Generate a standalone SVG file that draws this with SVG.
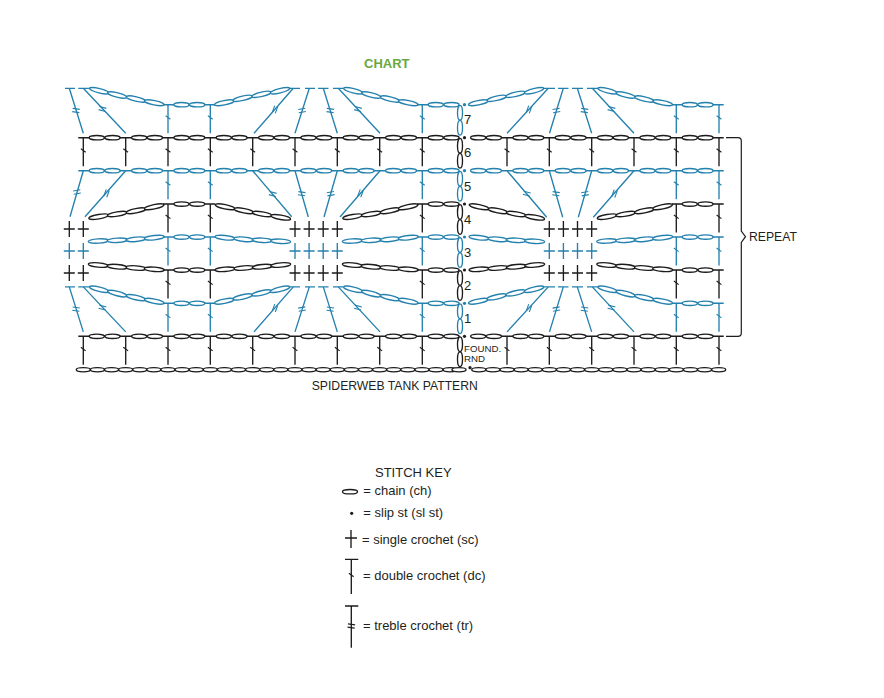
<svg xmlns="http://www.w3.org/2000/svg" width="884" height="698" viewBox="0 0 884 698">
<style>
text{font-family:"Liberation Sans",Arial,sans-serif;fill:#231f20;font-size:12.2px}
.b{stroke:#2481ae;color:#2481ae}
.k{stroke:#1d1b1c;color:#1d1b1c}
.l{fill:none;stroke-width:1.35}
.e{fill:#fff;stroke-width:1.35}
.d{stroke:none;fill:currentColor}
.t{fill:none;stroke-width:1.1}
.n{font-size:13px}
.s{font-size:9.7px}
.r{font-size:13px}
</style>
<defs>
<ellipse id="c" class="e" cx="0" cy="0" rx="7.6" ry="2.2"/>
<ellipse id="a" class="e" cx="0" cy="0" rx="10" ry="2.2"/>
<ellipse id="n" class="e" cx="0" cy="0" rx="7.05" ry="2.1"/>
<g id="p"><use href="#c" x="13.5"/><use href="#c" x="29.2"/></g>
<g id="vc"><ellipse class="e" cx="460" cy="8" rx="2.5" ry="7.4"/><ellipse class="e" cx="460" cy="23" rx="2.5" ry="7.4"/></g>
<path id="t1" class="t" d="M-2.4 -1.8L2.4 1.8"/>
<path id="t2" class="t" d="M-3.6 -1.6H3.6M-3.6 1.6H3.6"/>
<use id="t2a" href="#t2" transform="rotate(8)"/>
<use id="t2b" href="#t2" transform="rotate(-10)"/>
<use id="t2c" href="#t2" transform="rotate(15)"/>
<use id="t2d" href="#t2" transform="rotate(-70)"/>
<g id="v"><path class="l" d="M0 0V28.5"/><use href="#t1" y="12.8"/></g>
<g id="V5"><use href="#v" x="168"/><use href="#v" x="210.3"/><use href="#v" x="422.3"/><use href="#v" x="676.3"/><use href="#v" x="719"/></g>
<g id="sc"><path class="l" d="M0 -8V8M-5.5 0H5.5"/></g>
<g id="scs"><use href="#sc" x="69.3"/><use href="#sc" x="83.3"/><use href="#sc" x="295"/><use href="#sc" x="309.1"/><use href="#sc" x="323.2"/><use href="#sc" x="337.3"/><use href="#sc" x="549.3"/><use href="#sc" x="563.4"/><use href="#sc" x="577.5"/><use href="#sc" x="591.7"/></g>
<g id="full">
<path class="l" d="M78.3 0H456Q459.5 0 459.5 3.5M472 0H723.7"/>
<use href="#p" x="83.3"/><use href="#p" x="125.7"/><use href="#p" x="168"/><use href="#p" x="210.3"/><use href="#p" x="252.7"/><use href="#p" x="295"/><use href="#p" x="337.3"/><use href="#p" x="379.7"/><use href="#p" x="422.3"/>
<use href="#p" x="464.7"/><use href="#p" x="507"/><use href="#p" x="549.3"/><use href="#p" x="591.7"/><use href="#p" x="634"/><use href="#p" x="676.3"/>
</g>
<g id="mid">
<path class="l" d="M163 0H215M417 0H456Q459.5 0 459.5 3.5M672 0H723.7"/>
<use href="#p" x="168"/><use href="#p" x="422.3"/><use href="#p" x="676.3"/>
</g>
<g id="in7"><use href="#a" transform="translate(99.3 90.7) rotate(14)"/><use href="#a" transform="translate(117.3 95) rotate(14)"/><use href="#a" transform="translate(136 99) rotate(13)"/><use href="#a" transform="translate(154.3 102.7) rotate(11)"/></g>
<g id="out7"><use href="#a" transform="translate(224.3 102.7) rotate(-11)"/><use href="#a" transform="translate(242.7 98.3) rotate(-13)"/><use href="#a" transform="translate(261.7 94.3) rotate(-13)"/><use href="#a" transform="translate(280 90.7) rotate(-14)"/></g>
<g id="in4"><use href="#a" transform="translate(98.7 216.7) rotate(-10)"/><use href="#a" transform="translate(117.3 214) rotate(-10)"/><use href="#a" transform="translate(136 210.7) rotate(-11)"/><use href="#a" transform="translate(154.3 206.7) rotate(-12)"/></g>
<g id="out4"><use href="#a" transform="translate(225 206.7) rotate(12)"/><use href="#a" transform="translate(244 210.7) rotate(11)"/><use href="#a" transform="translate(262.3 214) rotate(10)"/><use href="#a" transform="translate(280.7 217.3) rotate(10)"/></g>
<g id="in3"><use href="#a" transform="translate(98.3 241) rotate(-3)"/><use href="#a" transform="translate(117.3 240.3) rotate(-3)"/><use href="#a" transform="translate(136 239.3) rotate(-5)"/><use href="#a" transform="translate(154.3 237.7) rotate(-6)"/></g>
<g id="out3"><use href="#a" transform="translate(225 237.7) rotate(6)"/><use href="#a" transform="translate(244 239.3) rotate(5)"/><use href="#a" transform="translate(262.3 240.3) rotate(3)"/><use href="#a" transform="translate(280.7 241.3) rotate(3)"/></g>
<g id="in2"><use href="#a" transform="translate(98.3 265) rotate(5)"/><use href="#a" transform="translate(117.3 266.7) rotate(5)"/><use href="#a" transform="translate(136 268) rotate(4)"/><use href="#a" transform="translate(154.3 269.3) rotate(4)"/></g>
<g id="out2"><use href="#a" transform="translate(225 269.3) rotate(-4)"/><use href="#a" transform="translate(244 268) rotate(-4)"/><use href="#a" transform="translate(262.3 266.7) rotate(-5)"/><use href="#a" transform="translate(280.7 265) rotate(-5)"/></g>
<g id="b3"><use href="#n"/><use href="#n" x="14.11"/><use href="#n" x="28.22"/></g>
</defs>

<g id="chart">
<g id="row-7" class="b">
<use href="#V5" y="104.7"/>
<path class="l" d="M65 88.3H75M78.3 88.3H90M285 88.3H300M305 88.3H315M318 88.3H328.5M333 88.3H343M540 88.3H555M558 88.3H568.5M572 88.3H583M587 88.3H598"/>
<path class="l" d="M69.3 88.3L83.3 133.3M83.3 88.3L125.7 133.3M293.3 88.3L254 133.3M309.3 88.3L295 133.3M323.3 88.3L337.3 133.3M338.3 88.3L380 133.3M548.3 88.3L507 133.3M563.3 88.3L549.5 133.3M577.3 88.3L591.7 133.3M592.3 88.3L634 133.3"/>
<g transform="translate(76 110.5)"><use href="#t2a"/></g><g transform="translate(102.5 109)"><use href="#t2c"/></g><g transform="translate(275 109.5)"><use href="#t2d"/></g><g transform="translate(302 110.5)"><use href="#t2b"/></g><g transform="translate(330.3 110.5)"><use href="#t2a"/></g><g transform="translate(358 109)"><use href="#t2c"/></g><g transform="translate(529 109.5)"><use href="#t2d"/></g><g transform="translate(556.4 110.5)"><use href="#t2b"/></g><g transform="translate(584.5 110.5)"><use href="#t2a"/></g><g transform="translate(611.5 109)"><use href="#t2c"/></g>
<use href="#in7"/><use href="#out7"/><use href="#in7" x="254"/><use href="#out7" x="254"/><use href="#in7" x="508.4"/>
<use href="#mid" y="104.7"/>
<use href="#vc" y="104.7"/>
<circle class="d" cx="464.5" cy="104.7" r="1.6"/>
</g>
<use href="#row-7" y="198.6"/>

<g id="row-6" class="k">
<use href="#v" x="83.3" y="137.7"/><use href="#v" x="125.7" y="137.7"/><use href="#v" x="168" y="137.7"/><use href="#v" x="210.3" y="137.7"/><use href="#v" x="252.7" y="137.7"/><use href="#v" x="295" y="137.7"/><use href="#v" x="337.3" y="137.7"/><use href="#v" x="379.7" y="137.7"/><use href="#v" x="422.3" y="137.7"/><use href="#v" x="507" y="137.7"/><use href="#v" x="549.3" y="137.7"/><use href="#v" x="591.7" y="137.7"/><use href="#v" x="634" y="137.7"/><use href="#v" x="676.3" y="137.7"/><use href="#v" x="719" y="137.7"/>
<use href="#full" y="137.7"/>
<use href="#vc" y="137.7"/>
<circle class="d" cx="464.5" cy="137.7" r="1.6"/>
</g>
<use href="#row-6" y="198.6"/>

<g id="row-5" class="b">
<use href="#V5" y="170.7"/>
<path class="l" d="M83.3 170.7L70 216.7M125.7 170.7L85 216.7M252.7 170.7L291.7 216.7M295 170.7L308.3 217M337.3 170.7L324 217M380 170.7L340 217M507 170.7L546.7 217.3M549.3 170.7L562.7 217.3M591.7 170.7L578.3 217.3M634 170.7L593.3 217.3"/>
<g transform="translate(77 192)"><use href="#t2b"/></g><g transform="translate(106.5 193.3)"><use href="#t2d"/></g><g transform="translate(272.7 194)"><use href="#t2c"/></g><g transform="translate(301.7 193.7)"><use href="#t2a"/></g><g transform="translate(330.7 193.7)"><use href="#t2b"/></g><g transform="translate(360.5 193.3)"><use href="#t2d"/></g><g transform="translate(526.8 193.7)"><use href="#t2c"/></g><g transform="translate(556 193.7)"><use href="#t2a"/></g><g transform="translate(585 193.7)"><use href="#t2b"/></g><g transform="translate(614.5 193.7)"><use href="#t2d"/></g>
<use href="#full" y="170.7"/>
<use href="#vc" y="170.7"/>
<circle class="d" cx="464.5" cy="170.7" r="1.6"/>
</g>

<g id="row-4" class="k">
<use href="#V5" y="204"/>
<use href="#scs" y="229"/>
<use href="#in4"/><use href="#out4"/><use href="#in4" x="254"/><use href="#out4" x="254"/><use href="#in4" x="508.4"/>
<use href="#mid" y="204"/>
<use href="#vc" y="204"/>
<circle class="d" cx="464.5" cy="204" r="1.6"/>
</g>

<g id="row-3" class="b">
<use href="#V5" y="237"/>
<use href="#scs" y="251"/>
<use href="#in3"/><use href="#out3"/><use href="#in3" x="254"/><use href="#out3" x="254"/><use href="#in3" x="508.4"/>
<use href="#mid" y="237"/>
<use href="#vc" y="237"/>
<circle class="d" cx="464.5" cy="237" r="1.6"/>
</g>

<g id="row-2" class="k">
<use href="#V5" y="270"/>
<use href="#scs" y="273"/>
<use href="#in2"/><use href="#out2"/><use href="#in2" x="254"/><use href="#out2" x="254"/><use href="#in2" x="508.4"/>
<use href="#mid" y="270"/>
<use href="#vc" y="270"/>
<circle class="d" cx="464.5" cy="270" r="1.6"/>
</g>

<g id="base" class="k">
<use href="#b3" x="83.3" y="369.7"/><use href="#b3" x="125.63" y="369.7"/><use href="#b3" x="167.96" y="369.7"/><use href="#b3" x="210.29" y="369.7"/><use href="#b3" x="252.62" y="369.7"/><use href="#b3" x="294.95" y="369.7"/><use href="#b3" x="337.28" y="369.7"/><use href="#b3" x="379.61" y="369.7"/><use href="#b3" x="421.94" y="369.7"/>
<use href="#n" x="459" y="369.7"/>
<use href="#b3" x="478.8" y="369.7"/><use href="#b3" x="521.13" y="369.7"/><use href="#b3" x="563.46" y="369.7"/><use href="#b3" x="605.79" y="369.7"/><use href="#b3" x="648.12" y="369.7"/><use href="#b3" x="690.45" y="369.7"/>
<circle class="d" cx="470" cy="367.7" r="1.6"/>
</g>

<path id="repeat-brace" class="k" fill="none" stroke-width="1.2" d="M726 137.7H738Q741.3 137.7 741.3 141V231L745.5 236.7L741.3 242.5V333Q741.3 336.3 738 336.3H726"/>
</g>

<g id="labels">
<text x="364" y="68" style="font-weight:700;font-size:13px;fill:#6aa83f">CHART</text>
<text class="n" x="464" y="124">7</text>
<text class="n" x="464" y="157">6</text>
<text class="n" x="464" y="191">5</text>
<text class="n" x="464" y="224">4</text>
<text class="n" x="464" y="256.5">3</text>
<text class="n" x="464" y="289.5">2</text>
<text class="n" x="464" y="323">1</text>
<text class="s" x="464" y="352.3">FOUND.</text>
<text class="s" x="464" y="361.7">RND</text>
<text x="749" y="241">REPEAT</text>
<text x="311.7" y="389.7">SPIDERWEB TANK PATTERN</text>
</g>

<g id="key">
<text x="375" y="477.3" style="font-size:13px">STITCH KEY</text>
<g id="key-chain" class="k"><ellipse class="e" cx="350" cy="491.7" rx="7.5" ry="2.2"/><text class="r" x="363.3" y="495" stroke="none">= chain (ch)</text></g>
<g id="key-slip" class="k"><circle class="d" cx="351.7" cy="513.3" r="1.6"/><text class="r" x="363.3" y="516.7" stroke="none">= slip st (sl st)</text></g>
<g id="key-sc" class="k"><path class="l" d="M351 530V548M345 538H357"/><text class="r" x="362" y="543.5" stroke="none">= single crochet (sc)</text></g>
<g id="key-dc" class="k"><path class="l" d="M345 559.3H358.3M351.3 559.3V594"/><use href="#t1" x="351.3" y="575"/><text class="r" x="363" y="579.5" stroke="none">= double crochet (dc)</text></g>
<g id="key-tr" class="k"><path class="l" d="M345 606H358.3M351.3 606V647.7"/><g transform="translate(351.3 626)"><use href="#t2a"/></g><text class="r" x="363" y="630" stroke="none">= treble crochet (tr)</text></g>
</g>
</svg>
